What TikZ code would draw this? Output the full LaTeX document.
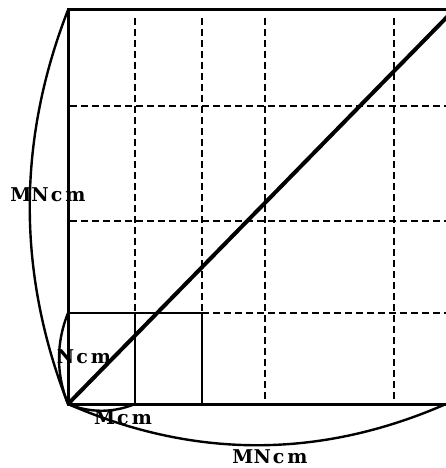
\documentclass[tikz,border=0pt]{standalone}
\usepackage{fontspec}
\setmainfont{DejaVu Serif}
\begin{document}
\begin{tikzpicture}[x=1pt,y=-1pt,
  outer/.style={line width=3pt},
  inner/.style={line width=2.4pt},
  grid/.style={line width=2.4pt,dash pattern=on 7pt off 4pt},
  diag/.style={line width=4pt},
  arcline/.style={line width=2.4pt},
  lab/.style={font=\fontsize{19}{19}\selectfont\bfseries,inner sep=0pt}]
\useasboundingbox (0,0) rectangle (446,468);
\clip (0,0) rectangle (446,468);
% corners
\coordinate (O) at (68,404);
\coordinate (TL) at (68,10);
\coordinate (TR) at (448,10);
\coordinate (BR) at (448,404);
\coordinate (D) at (448,16);
\coordinate (N) at (68,313);
\coordinate (M) at (135,404);
\coordinate (R) at (202,313);
\coordinate (Rb) at (202,404);
\coordinate (Mt) at (135,313);
% dashed grid
\draw[grid] (135,18) -- (Mt);
\draw[grid] (202,18) -- (R);
\draw[grid] (265,18) -- (265,402);
\draw[grid] (394,18) -- (394,402);
\draw[grid] (70,106) -- (448,106);
\draw[grid] (70,221) -- (448,221);
\draw[grid] (R) -- (448,313);
% solid small rectangle
\draw[inner] (N) -- (R) -- (Rb);
\draw[inner] (Mt) -- (M);
% outer lines
\draw[outer] (TR) -- (TL) -- (O) -- (BR);
% diagonal
\draw[diag] (O) -- (D);
% big arcs
\draw[arcline] (TL) .. controls (17,141) and (17,273) .. (O);
\draw[arcline] (O) .. controls (194,459) and (320,459) .. (446,404);
% small arcs
\draw[arcline] (N) .. controls (56,343) and (56,374) .. (O);
\draw[arcline] (O) .. controls (90,413) and (113,413) .. (M);
% labels
\node[lab] (l1) at (48,195) {MN\kern2pt c\kern3pt m};
\node[lab] (l2) at (84,357) {N\kern2pt c\kern3pt m};
\node[lab] (l3) at (123,418) {M\kern2pt c\kern3pt m};
\node[lab] (l4) at (270,457) {MN\kern2pt c\kern3pt m};
\end{tikzpicture}
\end{document}
